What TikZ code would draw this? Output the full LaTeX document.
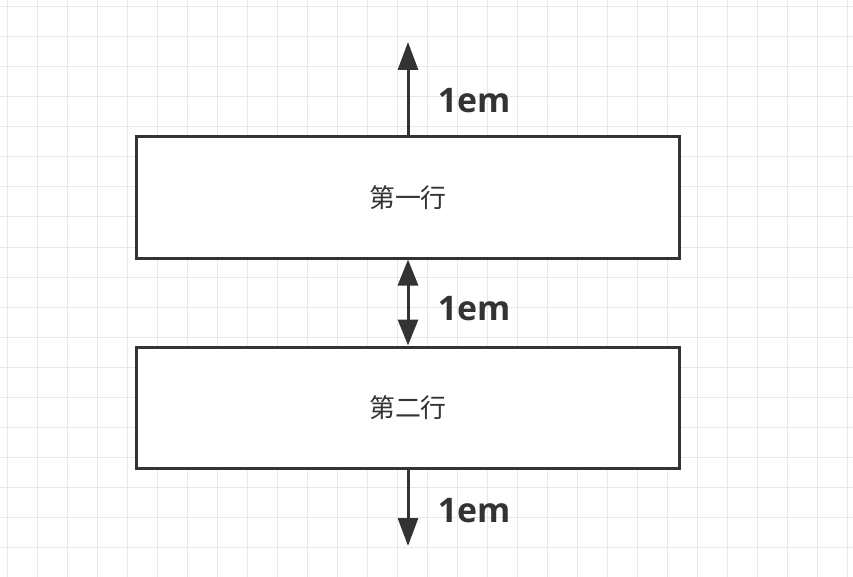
\documentclass[tikz,border=0pt]{standalone}
\usepackage{fontspec}
\usepackage{tikz}
\usetikzlibrary{arrows.meta}
\newfontfamily\cjkfont{Noto Sans CJK SC}
\newfontfamily\labelfont{Open Sans}

\tikzset{
	gridline/.style={draw=black!9, line width=1bp},
	rowbox/.style={draw=black!80, line width=3bp, fill=white, minimum width=542bp, minimum height=121bp, inner sep=0pt, font=\cjkfont\fontsize{26}{30}\selectfont, text=black!80},
	gap/.style={draw=black!80, line width=3bp},
	tip/.style={-{Triangle[length=28bp,width=20bp]}},
	gaplabel/.style={anchor=west, xshift=25bp, font=\labelfont\bfseries\fontsize{34}{40}\selectfont, text=black!80}
}

\begin{document}
\begin{tikzpicture}[x=1bp, y=-1bp]
		\useasboundingbox (0,0) rectangle (853,577);
		\foreach \i in {0,...,28} {
			\draw[gridline] (7+30*\i,0) -- (7+30*\i,577);
		}
		\foreach \j in {0,...,19} {
			\draw[gridline] (0,7+30*\j) -- (853,7+30*\j);
		}
		\node[rowbox] (row1) at (408,197.5) {第一行};
		\node[rowbox] (row2) at (408,407.5) {第二行};
		\coordinate (top) at (408,42);
		\coordinate (bottom) at (408,546);
		\draw[gap, tip] (row1.north) -- node[gaplabel, yshift=-12bp]{1em} (top);
		\draw[gap, {Triangle[length=26bp,width=20bp]}-{Triangle[length=26bp,width=20bp]}] (row1.south) -- node[gaplabel, yshift=-6bp]{1em} (row2.north);
		\draw[gap, tip] (row2.south) -- node[gaplabel, yshift=-3bp]{1em} (bottom);
		\end{tikzpicture}
\end{document}
